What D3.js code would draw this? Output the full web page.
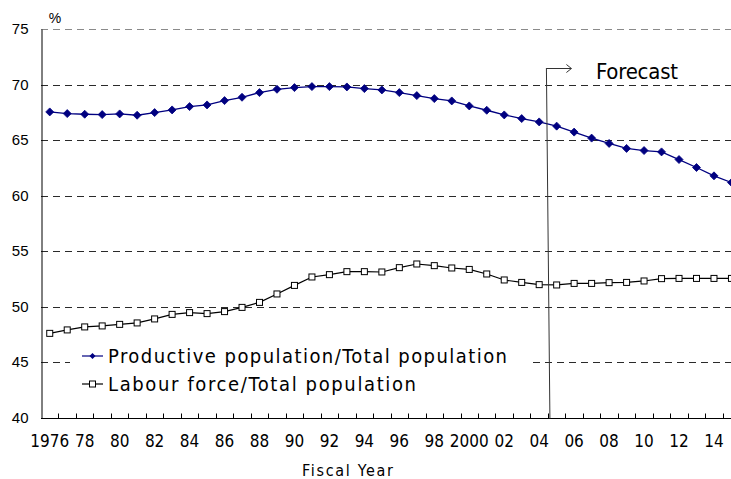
<!DOCTYPE html>
<html>
<head>
<meta charset="utf-8">
<script src="https://cdn.jsdelivr.net/npm/d3@7"></script>
<style>
  body { margin: 0; background: #fff; }
  svg { display: block; font-family: "Liberation Sans", Arial, sans-serif; }
  .narrow { font-family: "Liberation Sans Narrow", "Arial Narrow", "DejaVu Sans Condensed", sans-serif; }
</style>
</head>
<body>
<div id="chart"></div>
<script>
// Fiscal years 1976..2015
const years = d3.range(1976, 2016);

// Productive population / Total population (%)
const productive = [
  67.53, 67.38, 67.32, 67.29, 67.35, 67.23, 67.47, 67.71, 68.01, 68.16,
  68.55, 68.85, 69.27, 69.57, 69.72, 69.81, 69.81, 69.78, 69.63, 69.51,
  69.27, 69.00, 68.73, 68.52, 68.07, 67.68, 67.26, 66.93, 66.63, 66.25,
  65.71, 65.17, 64.69, 64.24, 64.05, 63.93, 63.24, 62.52, 61.77, 61.17
];

// Labour force / Total population (%)
const labour = [
  47.58, 47.89, 48.16, 48.25, 48.39, 48.52, 48.88, 49.29, 49.45, 49.36,
  49.54, 49.92, 50.37, 51.13, 51.90, 52.66, 52.87, 53.14, 53.14, 53.11,
  53.50, 53.83, 53.68, 53.47, 53.34, 52.93, 52.39, 52.17, 51.97, 51.94,
  52.08, 52.08, 52.15, 52.17, 52.30, 52.51, 52.53, 52.53, 52.53, 52.53
];

const yTicks = [40, 45, 50, 55, 60, 65, 70, 75];
const xTickLabels = {
  1976: '1976', 1978: '78', 1980: '80', 1982: '82', 1984: '84', 1986: '86',
  1988: '88', 1990: '90', 1992: '92', 1994: '94', 1996: '96', 1998: '98',
  2000: '2000', 2002: '02', 2004: '04', 2006: '06', 2008: '08', 2010: '10',
  2012: '12', 2014: '14'
};
const forecastStart = 2005;

const W = 731, H = 479;
const margin = { top: 29, left: 41, bottom: 61 };
const step = 17.48;

const svg = d3.select('#chart').append('svg')
  .attr('width', W).attr('height', H);

const x = d3.scaleBand()
  .domain(years)
  .range([margin.left, margin.left + step * years.length])
  .paddingInner(0).paddingOuter(0);

const y = d3.scaleLinear()
  .domain([40, 75])
  .range([H - margin.bottom - 0.5, margin.top]);

const cx = (yr) => x(yr) + x.bandwidth() / 2;

// Gridlines (dashed)
svg.append('g')
  .selectAll('line')
  .data(yTicks.filter((d) => d > 40))
  .enter()
  .append('line')
  .attr('x1', margin.left)
  .attr('x2', W)
  .attr('y1', (d) => Math.round(y(d)) + 0.5)
  .attr('y2', (d) => Math.round(y(d)) + 0.5)
  .attr('stroke', (d) => (d === 75 ? '#8a8a8a' : '#2a2a2a'))
  .attr('stroke-width', 1)
  .attr('stroke-dasharray', '7,5');

// Y axis
const yAxis = svg.append('g')
  .attr('transform', `translate(${margin.left + 0.5},0)`)
  .call(d3.axisLeft(y).tickValues(yTicks).tickSize(0).tickPadding(13).tickFormat(d3.format('d')));
yAxis.select('.domain').attr('stroke', '#000');
yAxis.selectAll('text')
  .attr('font-size', '15px')
  .attr('fill', '#000')
  .attr('font-family', '"Liberation Sans", Arial, sans-serif');

svg.append('text')
  .attr('x', 55).attr('y', 23)
  .attr('text-anchor', 'middle')
  .attr('font-size', '14px')
  .text('%');

// X axis
const axisY = Math.round(y(40)) + 0.5;
svg.append('line')
  .attr('x1', margin.left).attr('x2', W)
  .attr('y1', axisY).attr('y2', axisY)
  .attr('stroke', '#000');

svg.append('g')
  .selectAll('line')
  .data(years.slice(1))
  .enter()
  .append('line')
  .attr('x1', (d) => Math.round(x(d)) + 0.5)
  .attr('x2', (d) => Math.round(x(d)) + 0.5)
  .attr('y1', axisY)
  .attr('y2', axisY - 5)
  .attr('stroke', '#000');

svg.append('g')
  .selectAll('text')
  .data(years.filter((d) => xTickLabels[d]))
  .enter()
  .append('text')
  .attr('class', 'narrow')
  .attr('x', (d) => cx(d))
  .attr('y', 446.5)
  .attr('text-anchor', 'middle')
  .attr('font-size', '17px')
  .text((d) => xTickLabels[d]);

svg.append('text')
  .attr('class', 'narrow')
  .attr('x', 302).attr('y', 475.5)
  .attr('font-size', '16px')
  .attr('textLength', 91)
  .attr('lengthAdjust', 'spacing')
  .text('Fiscal Year');

// Lines
const lineGen = (vals) => d3.line()
  .x((d, i) => cx(years[i]))
  .y((d) => y(d))(vals);

svg.append('path')
  .attr('d', lineGen(labour))
  .attr('fill', 'none')
  .attr('stroke', '#000')
  .attr('stroke-width', 1.2);

svg.append('path')
  .attr('d', lineGen(productive))
  .attr('fill', 'none')
  .attr('stroke', '#000080')
  .attr('stroke-width', 1.3);

const diamond = 'M0,-4L4,0L0,4L-4,0Z';

svg.append('g')
  .selectAll('path')
  .data(productive)
  .enter()
  .append('path')
  .attr('d', diamond)
  .attr('transform', (d, i) => `translate(${cx(years[i])},${y(d)})`)
  .attr('fill', '#000080')
  .attr('stroke', '#000080')
  .attr('stroke-width', 0.8);

svg.append('g')
  .selectAll('rect')
  .data(labour)
  .enter()
  .append('rect')
  .attr('x', (d, i) => cx(years[i]) - 3)
  .attr('y', (d) => y(d) - 3)
  .attr('width', 6)
  .attr('height', 6)
  .attr('fill', '#fff')
  .attr('stroke', '#000')
  .attr('stroke-width', 1);

// Forecast marker
const fx = x(forecastStart);
svg.append('path')
  .attr('d', `M${fx + 2},${axisY} L${fx - 1.5},${68}`)
  .attr('stroke', '#333')
  .attr('fill', 'none');
svg.append('path')
  .attr('d', `M${fx - 1.5},68.5 H${fx + 23.5} M${fx + 18.5},64.5 L${fx + 23.5},68.5 L${fx + 18.5},72.5`)
  .attr('stroke', '#333')
  .attr('fill', 'none');
svg.append('text')
  .attr('class', 'narrow')
  .attr('x', 596).attr('y', 79)
  .attr('font-size', '22px')
  .attr('textLength', 82)
  .attr('lengthAdjust', 'spacing')
  .text('Forecast');

// Legend (white box hides the gridline behind it)
const legend = svg.append('g');
legend.append('rect')
  .attr('x', 70).attr('y', 340)
  .attr('width', 463).attr('height', 58)
  .attr('fill', '#fff');

const legendItems = [
  { label: 'Productive population/Total population', color: '#000080', shape: 'diamond', len: 399 },
  { label: 'Labour force/Total population', color: '#000', shape: 'square', len: 308 }
];

legendItems.forEach((item, i) => {
  const ly = 356 + i * 28;
  legend.append('line')
    .attr('x1', 82).attr('x2', 103)
    .attr('y1', ly).attr('y2', ly)
    .attr('stroke', item.color)
    .attr('stroke-width', 1.2);
  if (item.shape === 'diamond') {
    legend.append('path')
      .attr('d', 'M0,-3L3,0L0,3L-3,0Z')
      .attr('transform', `translate(92.5,${ly})`)
      .attr('fill', item.color);
  } else {
    legend.append('rect')
      .attr('x', 89.5).attr('y', ly - 3)
      .attr('width', 6).attr('height', 6)
      .attr('fill', '#fff').attr('stroke', '#000');
  }
  legend.append('text')
    .attr('class', 'narrow')
    .attr('x', 108).attr('y', ly + 7)
    .attr('font-size', '20px')
    .attr('textLength', item.len)
    .attr('lengthAdjust', 'spacing')
    .text(item.label);
});
</script>
</body>
</html>
